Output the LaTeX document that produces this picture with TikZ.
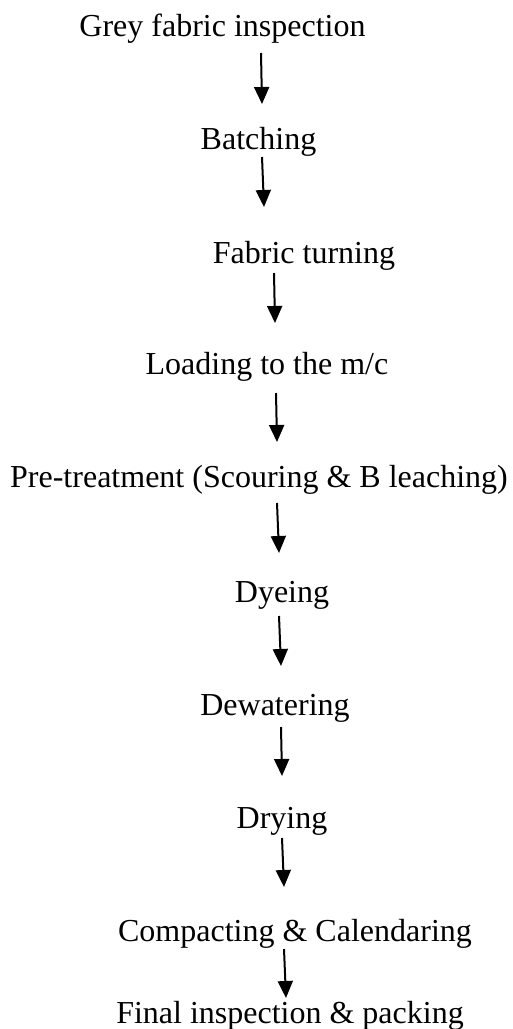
\documentclass[tikz,border=0pt]{standalone}
\usepackage{fontspec}
\setmainfont{Liberation Serif}
\usetikzlibrary{arrows.meta}
\begin{document}
\begin{tikzpicture}[x=1pt,y=1pt,
  stage/.style={anchor=base,inner sep=0pt,font=\fontsize{32}{38}\selectfont},
  flow/.style={line width=2pt,-{Triangle[width=15pt,length=17pt]}}]
\useasboundingbox (0,0) rectangle (512,-1029);
\fill[white] (0,0) rectangle (512,-1029);
\node[stage] (n1) at (222.5,-36) {Grey fabric inspection};
\node[stage] (n2) at (258.5,-149) {Batching};
\node[stage] (n3) at (304,-263) {Fabric turning};
\node[stage] (n4) at (267,-374) {Loading to the m/c};
\node[stage] (n5) at (259,-487) {Pre-treatment (Scouring \& B leaching)};
\node[stage] (n6) at (282,-602) {Dyeing};
\node[stage] (n7) at (275,-715) {Dewatering};
\node[stage] (n8) at (282,-828) {Drying};
\node[stage] (n9) at (295,-941) {Compacting \& Calendaring};
\node[stage] (n10) at (290,-1023) {Final inspection \& packing};
\coordinate (a1s) at (261,-53);  \coordinate (a1e) at (262,-104);
\coordinate (a2s) at (262,-157); \coordinate (a2e) at (264,-207);
\coordinate (a3s) at (274,-273); \coordinate (a3e) at (275,-323);
\coordinate (a4s) at (276,-393); \coordinate (a4e) at (277,-442);
\coordinate (a5s) at (277,-503); \coordinate (a5e) at (279,-553);
\coordinate (a6s) at (279,-616); \coordinate (a6e) at (281,-666);
\coordinate (a7s) at (281,-727); \coordinate (a7e) at (282,-776);
\coordinate (a8s) at (282,-838); \coordinate (a8e) at (284,-887);
\coordinate (a9s) at (284,-949); \coordinate (a9e) at (286,-998);
\draw[flow] (a1s) -- (a1e);
\draw[flow] (a2s) -- (a2e);
\draw[flow] (a3s) -- (a3e);
\draw[flow] (a4s) -- (a4e);
\draw[flow] (a5s) -- (a5e);
\draw[flow] (a6s) -- (a6e);
\draw[flow] (a7s) -- (a7e);
\draw[flow] (a8s) -- (a8e);
\draw[flow] (a9s) -- (a9e);
\end{tikzpicture}
\end{document}
